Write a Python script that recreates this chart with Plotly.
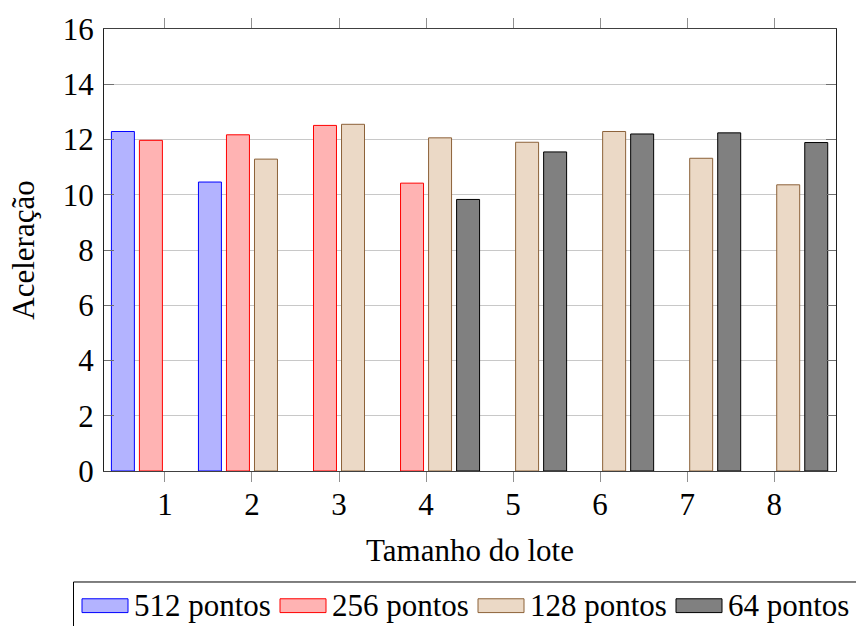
import plotly.graph_objects as go

# Batch sizes on the x axis
batch_sizes = [1, 2, 3, 4, 5, 6, 7, 8]

# Speed-up per batch size for each point count (None = not measured)
series_names = ["512 pontos", "256 pontos", "128 pontos", "64 pontos"]
speedup_512 = [12.29, 10.46, None, None, None, None, None, None]
speedup_256 = [11.97, 12.17, 12.51, 10.42, None, None, None, None]
speedup_128 = [None, 11.29, 12.55, 12.06, 11.90, 12.29, 11.32, 10.36]
speedup_64 = [None, None, None, 9.83, 11.55, 12.20, 12.24, 11.89]

y_ticks = [0, 2, 4, 6, 8, 10, 12, 14, 16]

series_values = [speedup_512, speedup_256, speedup_128, speedup_64]
fill_colors = ["#b3b3ff", "#ffb3b3", "#ebd9c6", "#808080"]
edge_colors = ["#0000ff", "#ff0000", "#8c6239", "#000000"]

FONT = "'Liberation Serif', 'Times New Roman', Times, serif"
FS = 31
W, H = 856, 626
L, R, T, B = 104, 20, 23, 155
PW, PH = W - L - R, H - T - B

bar_w = 0.264
step = 0.322
centers = [-1.5 * step, -0.5 * step, 0.5 * step, 1.5 * step]

fig = go.Figure()
for name, vals, fc, ec, c in zip(series_names, series_values, fill_colors, edge_colors, centers):
    fig.add_trace(go.Bar(
        x=batch_sizes, y=vals, name=name,
        width=bar_w, offset=c - bar_w / 2,
        marker=dict(color=fc, line=dict(color=ec, width=1)),
        showlegend=False,
    ))


def px_x(px):
    return (px - L) / PW


def px_y(py):
    return (H - B - py) / PH


# Legend drawn below the plot: frame, colour patches and labels
shapes = [dict(type="rect", xref="paper", yref="paper",
               x0=px_x(73.5), x1=px_x(870), y0=px_y(640), y1=px_y(583.5),
               line=dict(color="black", width=1), fillcolor="white", layer="below")]
annotations = []
patch_left = [82, 280, 478, 676]
for name, fc, ec, x0 in zip(series_names, fill_colors, edge_colors, patch_left):
    shapes.append(dict(type="rect", xref="paper", yref="paper",
                       x0=px_x(x0), x1=px_x(x0 + 46), y0=px_y(614.5), y1=px_y(600.5),
                       fillcolor=fc, line=dict(color=ec, width=1)))
    annotations.append(dict(xref="paper", yref="paper", x=px_x(x0 + 50), y=px_y(607),
                            text=name, showarrow=False, xanchor="left", yanchor="middle",
                            font=dict(family=FONT, size=FS, color="black")))

fig.update_layout(
    width=W, height=H,
    margin=dict(l=L, r=R, t=T, b=B),
    paper_bgcolor="white", plot_bgcolor="white",
    barmode="overlay",
    font=dict(family=FONT, size=FS, color="black"),
    shapes=shapes, annotations=annotations,
    xaxis=dict(
        range=[0.3, 8.71], tickvals=batch_sizes, ticktext=[str(b) for b in batch_sizes],
        ticks="outside", ticklen=10, tickcolor="#909090", tickwidth=1,
        showline=True, linecolor="#404040", linewidth=1, mirror="ticks",
        showgrid=False, zeroline=False,
        title=dict(text="Tamanho do lote", font=dict(family=FONT, size=FS), standoff=18),
        ticklabelstandoff=-4,
    ),
    yaxis=dict(
        range=[0, 16], tickvals=y_ticks,
        ticks="inside", ticklen=10, tickcolor="#707070", tickwidth=1,
        showline=True, linecolor="#202020", linewidth=1, mirror="ticks",
        showgrid=True, gridcolor="#c8c8c8", gridwidth=1, zeroline=False,
        title=dict(text="Aceleração", font=dict(family=FONT, size=FS), standoff=18),
        ticklabelstandoff=3,
    ),
)

fig.write_html("out.html")
